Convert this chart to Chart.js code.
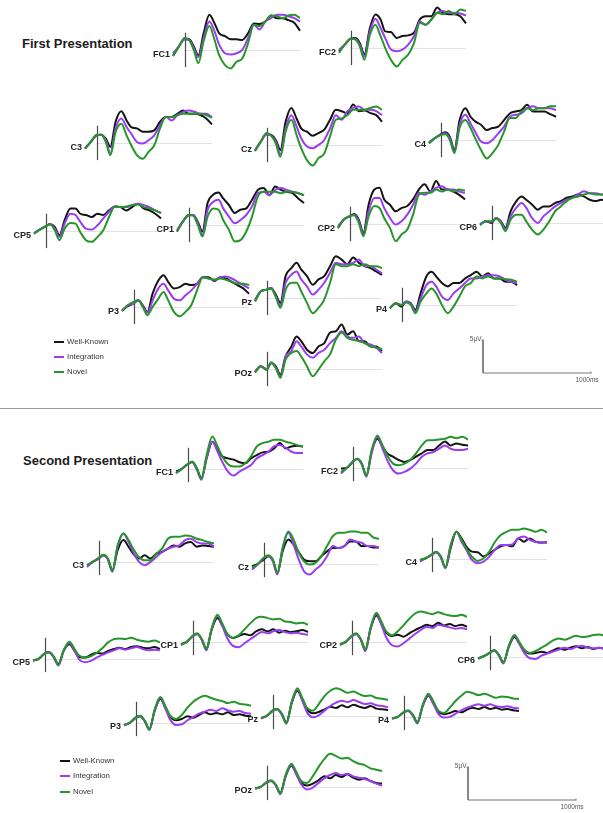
<!DOCTYPE html>
<html>
<head>
<meta charset="utf-8">
<script src="https://cdn.jsdelivr.net/npm/chart.js@4.4.1/dist/chart.umd.min.js"></script>
<style>
  html, body { margin: 0; padding: 0; background: #fff; }
  body { width: 603px; height: 813px; position: relative; overflow: hidden;
         font-family: "Liberation Sans", Arial, Helvetica, sans-serif; }
  canvas { position: absolute; }
  .title { position: absolute; font-weight: bold; font-size: 13px; color: #1c1c1c; white-space: nowrap; line-height: 1; }
  .sep { position: absolute; left: 0; width: 603px; height: 1px; background: #9a9a9a; }
  .leg { position: absolute; font-size: 7.8px; color: #333; white-space: nowrap; line-height: 1; }
  .leg i { position: absolute; left: 0; top: 50%; height: 2px; margin-top: -1px; }
  .leg span { position: absolute; top: -4px; }
</style>
</head>
<body>
<script>
// Sample times (ms) shared by every waveform
const times = [-100, -50, 0, 40, 80, 120, 165, 215, 260, 300, 350, 400, 450, 500, 550, 600, 650, 700, 750, 800, 850, 900, 950, 1000];

// Condition names (row order inside each electrode array)
const conditions = ['Well-Known', 'Integration', 'Novel'];

// ---- First presentation, µV per condition: [Well-Known, Integration, Novel]
const first_FC1 = [
  [-0.9, 0.5, 1.6, 1.6, 0.5, -0.8, 2.5, 5.3, 4.0, 2.5, 2.1, 1.6, 1.6, 1.5, 2.5, 4.0, 3.9, 4.3, 5.2, 4.8, 4.8, 4.5, 4.1, 2.9],
  [-0.5, 0.5, 1.6, 1.5, 0.25, -1.1, 1.8, 4.3, 2.8, 0.8, -0.5, -0.7, -0.5, 0.0, 1.8, 3.8, 3.1, 4.3, 4.8, 5.3, 5.3, 5.1, 4.8, 4.3],
  [-0.9, 0.5, 1.8, 1.5, 0.0, -2.0, 1.3, 3.6, 1.5, -0.8, -2.3, -2.8, -1.8, -1.3, 1.0, 3.8, 3.6, 4.3, 5.2, 5.1, 4.8, 5.2, 5.3, 4.8]
];
const first_FC2 = [
  [-0.5, 0.5, 1.4, 1.5, 0.75, -1.0, 2.8, 5.05, 4.3, 2.5, 2.4, 1.5, 1.8, 1.9, 2.3, 4.3, 4.8, 4.8, 6.1, 5.3, 5.1, 5.1, 4.8, 3.7],
  [-0.25, 0.5, 1.4, 1.4, 0.5, -1.3, 2.3, 4.4, 3.0, 1.5, -0.25, -0.5, -0.25, 0.5, 1.8, 4.0, 3.5, 4.3, 5.3, 5.6, 5.3, 5.3, 5.2, 4.9],
  [-0.75, 0.5, 1.4, 1.3, 0.25, -1.8, 1.8, 3.5, 1.8, 0.0, -1.8, -2.8, -1.8, -1.0, 0.75, 3.8, 3.5, 4.3, 5.3, 5.1, 5.6, 5.1, 5.8, 5.6]
];
const first_C3 = [
  [-0.85, 0.15, 1.15, 1.25, 0.65, -0.6, 3.2, 4.8, 3.4, 2.4, 2.2, 1.7, 1.7, 1.9, 3.2, 3.9, 3.9, 4.4, 4.9, 4.4, 4.4, 4.2, 3.7, 2.8],
  [-0.75, 0.15, 1.15, 1.25, 0.4, -1.6, 2.2, 3.7, 2.4, 1.4, 0.15, -0.1, 0.4, 1.15, 2.7, 3.9, 3.4, 4.2, 4.7, 4.9, 4.7, 4.4, 4.4, 3.9],
  [-0.85, 0.15, 1.25, 1.25, 0.15, -1.85, 1.65, 2.9, 1.15, -0.35, -1.85, -2.4, -1.35, -0.35, 2.2, 3.9, 3.9, 4.2, 4.4, 4.4, 4.4, 4.4, 4.2, 3.8]
];
const first_Cz = [
  [-0.9, 0.5, 1.6, 1.5, 0.75, -0.75, 3.5, 5.6, 4.0, 2.5, 2.0, 1.4, 1.8, 2.3, 3.8, 5.3, 5.1, 4.8, 6.1, 5.1, 5.2, 4.8, 4.5, 3.5],
  [-0.75, 0.5, 1.6, 1.4, 0.5, -1.4, 2.5, 4.5, 2.8, 1.0, -0.25, -0.5, 0.0, 0.75, 2.5, 4.5, 3.8, 5.1, 5.6, 5.8, 5.3, 5.3, 5.1, 4.5],
  [-0.9, 0.5, 1.8, 1.4, 0.25, -1.8, 2.0, 3.8, 1.5, -0.5, -2.3, -3.1, -2.0, -1.3, 1.3, 3.8, 4.0, 4.5, 5.3, 5.3, 5.3, 5.6, 5.8, 5.3]
];
const first_C4 = [
  [-0.5, 0.25, 0.85, 1.15, 0.5, -1.5, 3.0, 4.8, 3.5, 2.8, 2.3, 1.5, 1.8, 2.0, 3.0, 4.0, 4.3, 4.5, 5.3, 4.3, 4.3, 4.3, 3.9, 3.5],
  [-0.35, 0.25, 0.75, 1.0, 0.25, -1.75, 2.3, 3.8, 2.5, 1.25, -0.25, -0.5, 0.0, 1.0, 2.0, 3.5, 3.8, 4.0, 4.8, 5.1, 4.8, 4.8, 4.8, 4.5],
  [-0.5, 0.25, 0.75, 0.85, 0.0, -2.0, 1.8, 3.0, 1.8, 0.25, -1.5, -2.8, -2.0, -0.75, 1.25, 3.3, 3.3, 4.3, 4.8, 4.5, 4.8, 4.8, 5.1, 5.1]
];
const first_CP5 = [
  [-0.4, 0.2, 0.7, 1.0, 0.6, -0.65, 1.6, 3.4, 3.4, 2.6, 2.4, 2.1, 2.6, 2.4, 3.1, 3.7, 3.6, 3.1, 3.6, 4.1, 3.4, 3.1, 2.6, 1.9],
  [-0.3, 0.2, 0.7, 1.0, 0.35, -0.9, 1.1, 2.6, 2.4, 1.4, 0.35, 0.2, 0.85, 1.9, 2.9, 3.7, 3.6, 3.6, 3.9, 4.1, 3.9, 3.6, 3.1, 2.7],
  [-0.4, 0.2, 0.7, 1.0, 0.1, -1.4, 0.35, 1.2, 1.1, -0.15, -1.4, -1.65, -0.9, 0.1, 2.1, 3.7, 3.6, 3.7, 3.9, 4.0, 3.6, 3.4, 3.1, 2.7]
];
const first_CP1 = [
  [-1.0, 0.5, 1.5, 1.5, 0.5, -1.0, 3.3, 4.6, 4.9, 4.0, 3.0, 1.8, 2.3, 2.5, 3.8, 5.3, 5.6, 4.5, 5.8, 5.3, 5.0, 4.8, 4.0, 3.3],
  [-0.75, 0.5, 1.4, 1.5, 0.25, -1.5, 2.3, 3.5, 3.8, 2.5, 1.25, 0.25, 0.75, 1.5, 2.8, 4.8, 5.0, 4.5, 5.3, 5.6, 5.3, 5.0, 4.8, 4.5],
  [-1.0, 0.5, 1.5, 1.4, 0.0, -1.75, 1.25, 2.5, 2.3, 0.75, -0.75, -2.5, -2.3, -1.0, 1.25, 4.3, 5.0, 5.0, 5.0, 4.8, 5.0, 5.0, 4.8, 4.5]
];
const first_CP2 = [
  [-0.6, 0.65, 1.15, 1.5, 0.65, -1.35, 2.9, 5.2, 5.45, 3.7, 2.9, 1.9, 2.4, 2.7, 3.7, 5.2, 6.0, 4.9, 6.5, 5.2, 5.2, 4.9, 4.4, 3.7],
  [-0.35, 0.65, 1.15, 1.4, 0.4, -1.6, 1.9, 3.9, 3.9, 2.4, 0.9, -0.1, 0.4, 1.4, 2.9, 4.7, 4.4, 4.9, 5.45, 5.7, 5.2, 5.2, 4.9, 4.7],
  [-0.6, 0.65, 1.15, 1.3, 0.15, -1.85, 1.15, 2.7, 2.4, 0.9, -0.6, -2.6, -1.6, -0.85, 1.4, 4.4, 4.7, 4.7, 5.2, 4.9, 5.2, 4.9, 5.2, 5.05]
];
const first_CP6 = [
  [-0.25, 0.25, 0.0, 0.75, 0.25, -0.75, 1.75, 3.3, 4.0, 3.5, 2.8, 2.0, 2.5, 2.5, 3.0, 3.3, 3.8, 4.0, 4.3, 4.0, 3.5, 3.3, 3.5, 3.4],
  [-0.15, 0.25, 0.15, 0.75, 0.25, -1.0, 1.0, 2.3, 3.0, 2.3, 0.75, 0.0, 1.0, 1.75, 2.5, 3.0, 3.5, 3.8, 4.3, 4.8, 4.5, 4.5, 4.3, 4.3],
  [-0.35, 0.25, 0.25, 0.65, 0.0, -1.25, 0.5, 1.25, 1.25, 0.25, -1.0, -1.75, -1.0, 0.25, 1.75, 2.5, 3.3, 3.8, 4.0, 4.3, 4.5, 4.3, 4.3, 4.2]
];
const first_P3 = [
  [-0.6, 0.1, 0.5, 1.0, 0.25, -0.75, 2.0, 4.0, 4.8, 3.8, 2.8, 3.0, 3.5, 3.3, 3.5, 4.5, 4.5, 3.9, 4.5, 4.3, 3.8, 3.3, 2.8, 2.0],
  [-0.5, 0.25, 0.5, 1.0, 0.1, -0.9, 1.0, 2.8, 3.5, 2.5, 1.25, 1.0, 1.75, 2.5, 3.5, 4.5, 4.3, 4.1, 4.5, 4.6, 4.3, 3.8, 3.3, 2.8],
  [-0.6, 0.25, 0.75, 1.0, 0.0, -1.25, 0.0, 1.25, 2.25, 1.0, -0.75, -1.4, -0.75, 0.25, 2.5, 4.5, 4.3, 4.1, 4.3, 4.1, 3.8, 3.5, 3.5, 3.3]
];
const first_Pz = [
  [-0.5, 1.0, 1.25, 1.5, 0.5, -0.75, 3.3, 4.5, 5.3, 4.3, 3.3, 2.0, 2.8, 3.3, 4.8, 6.3, 5.8, 5.1, 6.1, 5.3, 4.8, 4.5, 4.0, 3.5],
  [-0.25, 1.0, 1.25, 1.5, 0.25, -1.15, 2.3, 3.5, 4.0, 2.8, 1.75, 0.5, 1.25, 2.3, 3.8, 5.3, 5.1, 5.1, 5.3, 5.8, 4.8, 4.8, 4.3, 3.7],
  [-0.5, 1.0, 1.25, 1.4, 0.15, -1.5, 1.25, 2.3, 2.3, 1.0, -0.75, -2.3, -1.5, -0.25, 2.3, 5.1, 4.8, 4.8, 5.1, 4.8, 5.1, 4.8, 4.8, 4.5]
];
const first_P4 = [
  [-0.5, 0.25, -0.25, 0.5, 0.25, -0.75, 1.75, 4.3, 5.0, 4.3, 3.3, 2.8, 3.3, 3.3, 4.0, 4.5, 5.0, 4.3, 4.8, 4.0, 4.0, 3.5, 3.5, 3.0],
  [-0.35, 0.25, 0.0, 0.5, 0.15, -1.0, 1.0, 3.0, 3.5, 2.8, 1.25, 0.75, 1.75, 2.5, 3.3, 4.0, 4.0, 4.3, 4.5, 4.5, 4.3, 3.8, 3.5, 3.3],
  [-0.5, 0.25, 0.0, 0.35, 0.0, -1.25, 0.5, 1.75, 2.5, 1.75, 0.0, -1.25, -0.25, 1.25, 2.8, 3.3, 4.3, 4.0, 4.3, 4.0, 4.0, 3.9, 3.8, 3.5]
];
const first_POz = [
  [-0.5, 0.4, -0.1, 0.9, 0.4, -0.85, 1.9, 3.4, 4.9, 4.2, 2.9, 2.4, 3.4, 3.9, 5.5, 5.7, 6.7, 5.2, 5.7, 4.2, 4.2, 3.4, 3.4, 2.7],
  [-0.35, 0.4, 0.0, 0.9, 0.15, -1.1, 1.9, 2.7, 4.2, 3.4, 2.2, 1.7, 2.4, 2.9, 3.9, 4.7, 5.7, 4.9, 4.7, 4.9, 3.9, 3.7, 3.2, 2.4],
  [-0.5, 0.4, -0.1, 1.0, 0.15, -1.35, 1.4, 2.4, 2.7, 1.9, 0.4, -1.1, -0.1, 1.15, 2.2, 4.4, 5.5, 4.7, 4.4, 4.2, 3.9, 3.4, 3.2, 3.0]
];

// ---- Second presentation, µV per condition: [Well-Known, Integration, Novel]
const second_FC1 = [
  [-0.4, 0.0, 0.7, 1.1, 0.1, -1.4, 1.6, 4.1, 2.9, 1.9, 1.6, 1.4, 1.0, 0.85, 1.6, 2.1, 2.5, 2.6, 3.1, 3.9, 3.1, 3.4, 3.5, 3.4],
  [-0.65, 0.0, 0.7, 1.0, -0.1, -1.65, 1.6, 4.1, 2.6, 1.1, -0.4, -1.0, -0.4, 0.1, 0.6, 1.6, 2.1, 2.6, 3.4, 3.6, 3.2, 2.6, 2.4, 2.4],
  [-0.65, 0.0, 0.7, 1.1, 0.1, -1.5, 2.1, 4.9, 3.4, 1.9, 0.7, 0.35, 0.35, 0.85, 1.9, 3.4, 3.9, 4.1, 4.4, 4.4, 4.1, 3.9, 3.6, 3.4]
];
const second_FC2 = [
  [-0.1, 0.0, 0.9, 1.4, 0.65, -1.1, 2.4, 4.4, 3.2, 2.2, 1.7, 1.2, 0.9, 1.2, 1.7, 2.2, 2.7, 2.7, 3.4, 4.0, 3.4, 3.7, 3.5, 3.4],
  [-0.85, 0.0, 0.9, 1.3, 0.5, -1.35, 2.2, 4.7, 2.9, 1.2, -0.35, -0.85, -0.6, -0.1, 0.65, 1.7, 2.2, 2.4, 2.9, 3.4, 2.9, 2.7, 2.7, 2.9],
  [-0.6, 0.0, 0.9, 1.4, 0.65, -1.2, 2.7, 4.9, 3.4, 1.9, 0.65, 0.4, 0.65, 1.2, 2.2, 3.4, 4.2, 4.2, 4.3, 4.4, 4.7, 4.5, 4.7, 4.3]
];
const second_C3 = [
  [-0.5, 0.0, 0.5, 1.0, 0.5, -1.25, 1.75, 3.3, 2.3, 1.25, 0.5, 1.0, 0.5, 1.25, 1.5, 2.0, 2.5, 2.3, 2.8, 3.0, 2.3, 2.5, 2.4, 2.3],
  [-0.75, 0.0, 0.5, 1.0, 0.4, -1.5, 2.3, 4.3, 3.0, 1.5, 0.0, -0.5, 0.0, 0.75, 1.5, 2.0, 2.3, 2.5, 3.3, 3.5, 3.0, 2.8, 2.8, 2.3],
  [-0.5, 0.0, 0.6, 1.1, 0.5, -1.4, 2.5, 4.3, 3.3, 2.0, 0.75, 0.25, 0.25, 1.25, 2.0, 3.5, 3.8, 3.8, 4.0, 3.9, 3.5, 3.3, 3.0, 2.8]
];
const second_Cz = [
  [-0.35, 0.0, 0.65, 1.15, 0.65, -1.35, 1.9, 3.7, 2.9, 1.9, 0.65, 0.4, 0.4, 1.15, 1.9, 2.4, 2.4, 2.7, 3.4, 3.4, 2.7, 2.7, 2.5, 2.5],
  [-0.85, -0.1, 0.9, 1.15, 0.4, -1.6, 2.4, 4.7, 2.9, 0.9, -1.1, -1.6, -0.85, -0.1, 1.15, 2.7, 2.4, 2.7, 3.7, 3.4, 3.2, 2.7, 2.7, 2.5],
  [-0.6, 0.0, 0.9, 1.3, 0.65, -1.35, 2.4, 4.9, 3.7, 1.9, 0.4, -0.1, 0.15, 1.15, 2.7, 4.2, 4.7, 4.7, 4.9, 4.9, 4.7, 4.7, 4.0, 3.8]
];
const second_C4 = [
  [-0.15, 0.1, 0.6, 1.0, 0.35, -1.3, 1.6, 4.1, 3.1, 1.9, 1.1, 1.0, 0.35, 0.85, 1.4, 1.9, 2.1, 1.9, 3.1, 2.6, 3.1, 2.6, 2.5, 2.5],
  [-0.4, 0.1, 0.6, 1.0, 0.2, -1.4, 1.9, 4.1, 2.6, 1.4, -0.15, -0.65, -0.4, 0.35, 1.4, 2.1, 2.1, 2.2, 3.1, 3.4, 2.9, 2.6, 2.4, 2.6],
  [-0.15, 0.1, 0.7, 1.1, 0.35, -1.3, 2.1, 4.1, 2.9, 1.6, 0.35, -0.3, 0.1, 1.1, 2.6, 3.6, 4.1, 4.4, 4.4, 4.6, 4.4, 4.1, 4.4, 4.0]
];
const second_CP5 = [
  [-0.2, 0.0, 0.8, 1.0, 0.3, -0.8, 1.2, 2.2, 1.2, 0.3, 0.2, 0.6, 0.9, 0.8, 1.2, 1.5, 1.7, 1.5, 1.8, 1.9, 1.7, 1.6, 1.8, 1.5],
  [-0.3, 0.0, 0.8, 1.0, 0.2, -1.0, 1.2, 2.4, 1.2, -0.1, -0.5, -0.3, 0.2, 0.6, 1.0, 1.3, 1.6, 1.4, 1.6, 1.8, 1.5, 1.3, 1.4, 1.3],
  [-0.2, 0.0, 0.8, 1.0, 0.3, -0.9, 1.3, 2.6, 1.5, 0.5, 0.2, 0.4, 0.9, 1.6, 2.5, 3.0, 3.1, 3.0, 3.2, 2.9, 2.7, 2.6, 2.8, 2.5]
];
const second_CP1 = [
  [-0.3, 0.0, 0.9, 1.2, 0.4, -1.0, 1.8, 3.6, 2.4, 1.2, 0.6, 0.9, 1.2, 1.0, 1.6, 1.9, 1.6, 1.9, 1.4, 1.7, 1.5, 1.6, 1.8, 1.5],
  [-0.5, 0.0, 0.8, 1.2, 0.3, -1.3, 1.9, 4.0, 2.3, 0.6, -0.6, -0.8, -0.2, 0.4, 1.0, 1.5, 1.3, 1.6, 1.8, 1.5, 1.3, 1.4, 1.2, 1.1],
  [-0.4, 0.0, 0.9, 1.3, 0.4, -1.1, 2.0, 4.1, 2.7, 1.2, 0.6, 1.0, 1.9, 2.8, 3.6, 3.8, 3.6, 3.4, 3.5, 3.1, 3.0, 2.8, 2.9, 2.6]
];
const second_CP2 = [
  [-0.3, 0.0, 0.9, 1.2, 0.4, -1.1, 2.0, 4.0, 2.7, 1.4, 0.9, 1.1, 0.8, 1.3, 1.8, 2.2, 2.6, 2.4, 2.9, 2.5, 2.7, 2.4, 2.6, 2.3],
  [-0.5, 0.0, 0.8, 1.2, 0.3, -1.4, 2.0, 4.3, 2.5, 0.7, -0.5, -0.7, -0.2, 0.5, 1.2, 1.8, 2.3, 2.1, 2.6, 2.4, 2.2, 2.0, 2.1, 1.9],
  [-0.4, 0.0, 0.9, 1.3, 0.4, -1.2, 2.2, 4.4, 3.0, 1.6, 1.0, 1.6, 2.5, 3.5, 4.3, 4.6, 4.4, 4.2, 4.5, 4.2, 4.0, 3.9, 4.1, 3.8]
];
const second_CP6 = [
  [-0.2, 0.1, 0.6, 1.0, 0.3, -0.8, 1.4, 3.0, 2.0, 1.0, 0.5, 0.6, 0.8, 0.6, 1.0, 1.3, 1.1, 1.4, 1.6, 1.3, 1.5, 1.2, 1.4, 1.2],
  [-0.3, 0.1, 0.6, 1.0, 0.2, -1.0, 1.5, 3.2, 1.9, 0.6, -0.2, -0.3, 0.2, 0.5, 0.8, 1.1, 1.4, 1.2, 1.5, 1.7, 1.4, 1.3, 1.4, 1.2],
  [-0.2, 0.1, 0.6, 1.0, 0.3, -0.9, 1.6, 3.3, 2.2, 1.1, 0.6, 0.9, 1.4, 1.9, 2.5, 2.8, 2.6, 2.9, 3.2, 3.0, 3.1, 3.3, 3.4, 3.2]
];
const second_P3 = [
  [-0.3, 0.0, 0.8, 1.0, 0.3, -0.9, 1.8, 3.6, 2.2, 0.9, 0.4, 0.6, 1.0, 0.8, 1.2, 1.6, 1.3, 1.5, 1.3, 1.6, 1.2, 1.3, 1.1, 1.0],
  [-0.4, 0.0, 0.7, 1.0, 0.2, -1.1, 1.8, 3.8, 2.1, 0.5, -0.3, -0.2, 0.4, 0.9, 1.4, 1.7, 2.0, 1.8, 2.2, 1.9, 1.7, 1.8, 1.5, 1.4],
  [-0.3, 0.0, 0.8, 1.1, 0.3, -1.0, 2.0, 3.9, 2.5, 1.1, 0.6, 1.2, 2.3, 3.2, 3.8, 4.1, 3.8, 3.5, 3.3, 3.0, 3.2, 2.9, 2.8, 2.6]
];
const second_Pz = [
  [-0.3, 0.0, 0.8, 1.0, 0.3, -1.0, 1.9, 3.8, 2.3, 0.9, 0.4, 0.6, 1.0, 1.4, 1.2, 1.6, 1.3, 1.7, 1.4, 1.2, 1.5, 1.1, 1.0, 0.9],
  [-0.4, 0.0, 0.7, 1.0, 0.2, -1.2, 1.9, 4.0, 2.2, 0.5, -0.2, 0.1, 0.8, 1.5, 2.0, 2.3, 2.1, 2.4, 2.1, 1.8, 1.9, 1.6, 1.5, 1.3],
  [-0.3, 0.0, 0.8, 1.1, 0.3, -1.1, 2.1, 4.2, 2.6, 1.2, 0.8, 1.8, 3.0, 3.8, 4.2, 3.9, 3.5, 3.7, 3.3, 3.0, 3.1, 2.7, 2.6, 2.4]
];
const second_P4 = [
  [-0.2, 0.0, 0.7, 0.9, 0.3, -0.8, 1.6, 3.2, 2.0, 0.8, 0.4, 0.6, 0.9, 0.7, 1.1, 1.4, 1.2, 1.5, 1.2, 1.4, 1.1, 1.2, 1.0, 0.9],
  [-0.3, 0.0, 0.7, 0.9, 0.2, -1.0, 1.6, 3.3, 1.9, 0.5, -0.1, 0.0, 0.5, 1.0, 1.4, 1.7, 1.9, 1.7, 1.9, 1.6, 1.5, 1.6, 1.4, 1.3],
  [-0.2, 0.0, 0.7, 1.0, 0.3, -0.9, 1.8, 3.5, 2.3, 1.0, 0.6, 1.4, 2.4, 3.2, 3.8, 3.6, 3.3, 3.5, 3.2, 2.9, 3.1, 3.0, 2.8, 2.7]
];
const second_POz = [
  [-0.2, 0.0, 0.7, 0.9, 0.3, -0.9, 1.6, 3.2, 1.9, 0.7, 0.2, 0.5, 1.0, 1.6, 1.3, 1.8, 1.5, 1.9, 1.4, 1.1, 1.3, 0.9, 0.6, 0.5],
  [-0.3, 0.0, 0.7, 0.9, 0.2, -1.1, 1.6, 3.3, 1.8, 0.4, -0.4, -0.1, 0.6, 1.3, 1.8, 2.1, 1.8, 2.0, 1.6, 1.4, 1.2, 0.9, 0.5, 0.2],
  [-0.2, 0.0, 0.7, 1.0, 0.3, -1.0, 1.8, 3.5, 2.2, 0.9, 0.6, 1.6, 3.0, 4.2, 5.0, 4.7, 4.3, 4.4, 3.9, 3.5, 3.3, 2.8, 2.6, 2.4]
];

// Calibration bar lengths
const scaleBarMicroVolts = 5;
const scaleBarMs = 1000;

// ---- Page layout: [electrode, onset x, baseline y, waveforms]
const layoutFirst = [
  ['FC1', 185, 50, first_FC1], ['FC2', 351, 48, first_FC2],
  ['C3', 97, 143, first_C3], ['Cz', 267, 145, first_Cz], ['C4', 441, 140, first_C4],
  ['CP5', 46, 231, first_CP5], ['CP1', 189, 225, first_CP1], ['CP2', 350, 224, first_CP2], ['CP6', 492, 223, first_CP6],
  ['P3', 134, 307, first_P3], ['Pz', 267, 298, first_Pz], ['P4', 402, 305, first_P4],
  ['POz', 267, 369, first_POz]
];
const layoutSecond = [
  ['FC1', 188, 469, second_FC1], ['FC2', 353, 468, second_FC2],
  ['C3', 99, 562, second_C3], ['Cz', 264, 564, second_Cz], ['C4', 432, 559, second_C4],
  ['CP5', 45, 659, second_CP5], ['CP1', 193, 642, second_CP1], ['CP2', 352, 642, second_CP2], ['CP6', 490, 657, second_CP6],
  ['P3', 136, 723, second_P3], ['Pz', 273, 716, second_Pz], ['P4', 404, 717, second_P4],
  ['POz', 267, 787, second_POz]
];

const COLORS = ['#141414', '#9a3cf2', '#27962a'];   // Well-Known, Integration, Novel
const PAD = { left: 32, right: 4, top: 4, bottom: 4 };
const AREA_W = 127, AREA_H = 86;                    // -100..1000 ms, -5..8 µV
const X_MIN = -100, X_MAX = 1000, Y_MIN = -5, Y_MAX = 8;

Chart.defaults.font.family = '"Liberation Sans", Arial, Helvetica, sans-serif';

// Baseline, stimulus-onset marker and electrode name for one panel
const panelDecor = {
  id: 'panelDecor',
  beforeDatasetsDraw(chart, args, opts) {
    const { ctx, scales: { x, y } } = chart;
    ctx.save();
    const y0 = Math.round(y.getPixelForValue(0)) + 0.5;
    ctx.strokeStyle = '#e2e2e2';
    ctx.lineWidth = 1;
    ctx.beginPath();
    ctx.moveTo(x.getPixelForValue(0), y0);
    ctx.lineTo(x.getPixelForValue(X_MAX), y0);
    ctx.stroke();

    const x0 = Math.round(x.getPixelForValue(0)) + 0.5;
    ctx.strokeStyle = '#4a4a4a';
    ctx.lineWidth = 1.2;
    ctx.beginPath();
    ctx.moveTo(x0, y.getPixelForValue(opts.onsetTop));
    ctx.lineTo(x0, y.getPixelForValue(opts.onsetBottom));
    ctx.stroke();

    ctx.fillStyle = '#222';
    ctx.font = 'bold 9px "Liberation Sans", Arial, sans-serif';
    ctx.textAlign = 'right';
    ctx.textBaseline = 'middle';
    ctx.fillText(opts.label, x.getPixelForValue(X_MIN) - 3, y0 + opts.labelDy);
    ctx.restore();
  }
};

function addPanel(spec, onsetTop, onsetBottom, labelDy) {
  const [name, onsetX, baseY, waves] = spec;
  const cv = document.createElement('canvas');
  const w = PAD.left + AREA_W + PAD.right, h = PAD.top + AREA_H + PAD.bottom;
  cv.width = w; cv.height = h;
  cv.style.width = w + 'px'; cv.style.height = h + 'px';
  const pxPerMs = AREA_W / (X_MAX - X_MIN), pxPerUv = AREA_H / (Y_MAX - Y_MIN);
  cv.style.left = Math.round(onsetX - PAD.left - (0 - X_MIN) * pxPerMs) + 'px';
  cv.style.top = Math.round(baseY - PAD.top - Y_MAX * pxPerUv) + 'px';
  document.body.appendChild(cv);

  // Novel first so it is painted on top, Well-Known last (bottom)
  const datasets = [2, 1, 0].map(k => ({
    label: conditions[k],
    data: waves[k].map((v, i) => ({ x: times[i], y: v })),
    borderColor: COLORS[k],
    borderWidth: 2,
    pointRadius: 0,
    cubicInterpolationMode: 'monotone',
    fill: false,
    clip: false
  }));

  new Chart(cv, {
    type: 'line',
    data: { datasets },
    options: {
      responsive: false, animation: false, devicePixelRatio: 1, events: [],
      layout: { padding: PAD },
      scales: {
        x: { type: 'linear', min: X_MIN, max: X_MAX, display: false },
        y: { type: 'linear', min: Y_MIN, max: Y_MAX, display: false }
      },
      plugins: {
        legend: { display: false }, tooltip: { enabled: false },
        panelDecor: { label: name, onsetTop, onsetBottom, labelDy }
      }
    },
    plugins: [panelDecor]
  });
}

// Calibration bar drawn on its own small chart
const barLabels = {
  id: 'barLabels',
  afterDatasetsDraw(chart) {
    const { ctx, scales: { x, y } } = chart;
    ctx.save();
    ctx.fillStyle = '#555';
    ctx.strokeStyle = '#777';
    ctx.lineWidth = 1;
    const xl = Math.round(x.getPixelForValue(0)) + 0.5;
    const yb = Math.round(y.getPixelForValue(0)) + 0.5;
    const xr = x.getPixelForValue(scaleBarMs), yt = y.getPixelForValue(scaleBarMicroVolts);
    ctx.beginPath();
    ctx.moveTo(xl - 2, yt); ctx.lineTo(xl, yt);
    ctx.moveTo(xr, yb - 2); ctx.lineTo(xr, yb);
    ctx.stroke();
    ctx.font = '6.5px "Liberation Sans", Arial, sans-serif';
    ctx.textAlign = 'right'; ctx.textBaseline = 'middle';
    ctx.fillText(scaleBarMicroVolts + 'µV', xl - 2, yt - 1);
    ctx.textAlign = 'center'; ctx.textBaseline = 'top';
    ctx.fillText(scaleBarMs + 'ms', xr - 4, yb + 3);
    ctx.restore();
  }
};

function addScaleBar(left, bottom) {
  const bw = 108, bh = 33, pad = { left: 22, right: 12, top: 6, bottom: 14 };
  const cv = document.createElement('canvas');
  const w = pad.left + bw + pad.right, h = pad.top + bh + pad.bottom;
  cv.width = w; cv.height = h;
  cv.style.width = w + 'px'; cv.style.height = h + 'px';
  cv.style.left = (left - pad.left) + 'px';
  cv.style.top = (bottom - bh - pad.top) + 'px';
  document.body.appendChild(cv);
  new Chart(cv, {
    type: 'scatter',
    data: { datasets: [{
      data: [{ x: 0, y: scaleBarMicroVolts }, { x: 0, y: 0 }, { x: scaleBarMs, y: 0 }],
      showLine: true, borderColor: '#777', borderWidth: 1, pointRadius: 0, tension: 0, clip: false
    }] },
    options: {
      responsive: false, animation: false, devicePixelRatio: 1, events: [],
      layout: { padding: pad },
      scales: {
        x: { type: 'linear', min: 0, max: scaleBarMs, display: false },
        y: { type: 'linear', min: 0, max: scaleBarMicroVolts, display: false }
      },
      plugins: { legend: { display: false }, tooltip: { enabled: false } }
    },
    plugins: [barLabels]
  });
}

function addText(cls, text, left, top) {
  const d = document.createElement('div');
  d.className = cls; d.textContent = text;
  d.style.left = left + 'px'; d.style.top = top + 'px';
  document.body.appendChild(d);
  return d;
}

function addLegend(left, tops) {
  conditions.forEach((c, k) => {
    const d = document.createElement('div');
    d.className = 'leg';
    d.style.left = left + 'px'; d.style.top = tops[k] + 'px';
    d.innerHTML = '<i style="width:10px;background:' + COLORS[k] + '"></i><span style="left:13px">' + c + '</span>';
    document.body.appendChild(d);
  });
}

addText('title', 'First Presentation', 22, 37);
addText('title', 'Second Presentation', 23, 454);
const sep = document.createElement('div');
sep.className = 'sep'; sep.style.top = '408px';
document.body.appendChild(sep);

layoutFirst.forEach(p => addPanel(p, 2.6, -2.6, 4));
layoutSecond.forEach(p => addPanel(p, 3.2, -2.0, 3));

addLegend(54, [342, 357, 372]);
addLegend(60, [761, 776, 792]);

addScaleBar(483, 373);
addScaleBar(468, 800);
</script>
</body>
</html>
